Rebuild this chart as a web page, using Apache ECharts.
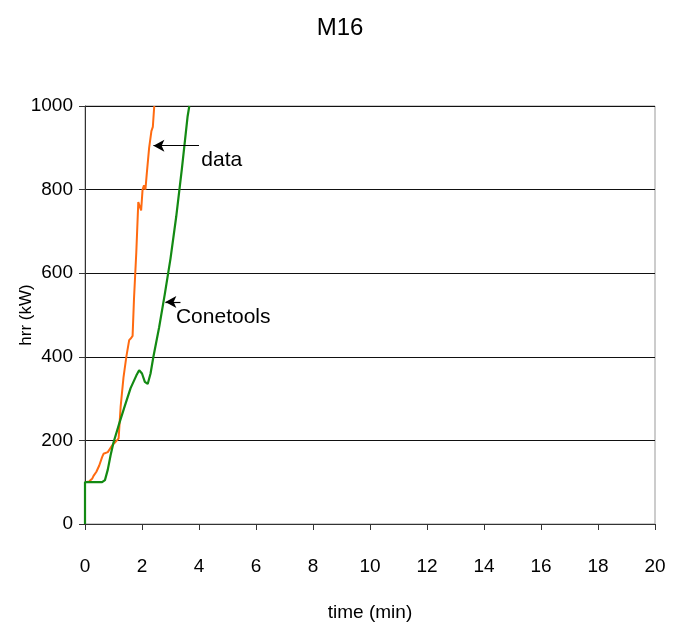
<!DOCTYPE html>
<html><head><meta charset="utf-8">
<script src="https://cdn.jsdelivr.net/npm/echarts@6/dist/echarts.min.js"></script>
<style>html,body{margin:0;padding:0;background:#fff}#c{width:680px;height:631px}</style>
</head><body><div id="c"></div>
<script>
const FONT = "'Liberation Sans', Arial, sans-serif";
const titleText = "M16";
const xName = "time (min)";
const yName = "hrr (kW)";
const xTicks = [0, 2, 4, 6, 8, 10, 12, 14, 16, 18, 20];
const yTicks = [0, 200, 400, 600, 800, 1000];

const dataSeries = [[0,100],[0.05,100],[0.15,102],[0.25,108],[0.3,115],[0.4,125],[0.5,140],[0.6,160],[0.65,168],[0.7,165],[0.8,172],[0.85,170],[0.95,188],[1.05,195],[1.12,200],[1.18,205],[1.25,280],[1.35,350],[1.45,400],[1.55,440],[1.62,445],[1.67,450],[1.72,540],[1.8,650],[1.87,770],[1.92,760],[1.97,750],[2.02,800],[2.07,810],[2.12,800],[2.17,840],[2.25,900],[2.33,940],[2.38,950],[2.43,1000]];
const conetools = [[0,0],[0,100],[0.6,100],[0.7,105],[0.8,130],[0.9,165],[1.0,195],[1.2,240],[1.4,283],[1.6,325],[1.8,355],[1.9,368],[2.0,360],[2.1,340],[2.2,335],[2.3,360],[2.4,400],[2.6,470],[2.8,550],[3.0,635],[3.2,735],[3.4,850],[3.6,975],[3.66,1000]];

const arrowData = {from:[4.0,905], to:[2.4,905], label:"data", at:[4.8,870]};
const arrowCone = {from:[3.35,531], to:[2.82,531], label:"Conetools", at:[4.85,495]};

const chart = echarts.init(document.getElementById('c'));
function ann(a){
  return {
    markLine:{silent:true, symbol:['none','arrow'], symbolSize:[9,11],
      lineStyle:{color:'#000', width:1.2, type:'solid'}, label:{show:false},
      data:[[{coord:a.from},{coord:a.to}]]},
    markPoint:{silent:true, symbol:'circle', symbolSize:0,
      label:{show:true, position:'inside', formatter:a.label, color:'#000', fontFamily:FONT, fontSize:21},
      data:[{coord:a.at}]}
  };
}
chart.setOption({
  animation:false,
  backgroundColor:'#fff',
  title:{text:titleText, left:'center', top:11, textStyle:{fontFamily:FONT, fontWeight:'normal', fontSize:24, color:'#000'}},
  grid:{left:85, right:25, top:106, bottom:107, show:true, borderColor:'#999', borderWidth:1, containLabel:false, outerBoundsMode:'none'},
  xAxis:{type:'value', min:0, max:20, interval:2, name:xName, nameLocation:'middle', nameGap:79, nameMoveOverlap:false,
    nameTextStyle:{fontFamily:FONT, fontSize:19, color:'#000'},
    axisLine:{show:true, onZero:false, lineStyle:{color:'#333'}},
    axisTick:{show:true, length:6, inside:false, lineStyle:{color:'#333'}},
    axisLabel:{fontFamily:FONT, fontSize:19, color:'#000', margin:33, formatter:v=>xTicks.includes(v)?String(v):''},
    splitLine:{show:false}},
  yAxis:{type:'value', min:0, max:1000, interval:200, name:yName, nameLocation:'middle', nameGap:50, nameMoveOverlap:false,
    nameTextStyle:{fontFamily:FONT, fontSize:17, color:'#000'},
    axisLine:{show:true, lineStyle:{color:'#333'}},
    axisTick:{show:true, length:6, inside:false, lineStyle:{color:'#333'}},
    axisLabel:{fontFamily:FONT, fontSize:19, color:'#000', margin:12, formatter:v=>yTicks.includes(v)?String(v):''},
    splitLine:{show:true, lineStyle:{color:'#111', width:1}}},
  series:[
    Object.assign({type:'line', name:'data', data:dataSeries, showSymbol:false, symbol:'none',
      lineStyle:{color:'#ff6a10', width:2}, z:3}, ann(arrowData)),
    Object.assign({type:'line', name:'Conetools', data:conetools, showSymbol:false, symbol:'none',
      lineStyle:{color:'#138a13', width:2.2}, z:4}, ann(arrowCone))
  ]
});
</script></body></html>
